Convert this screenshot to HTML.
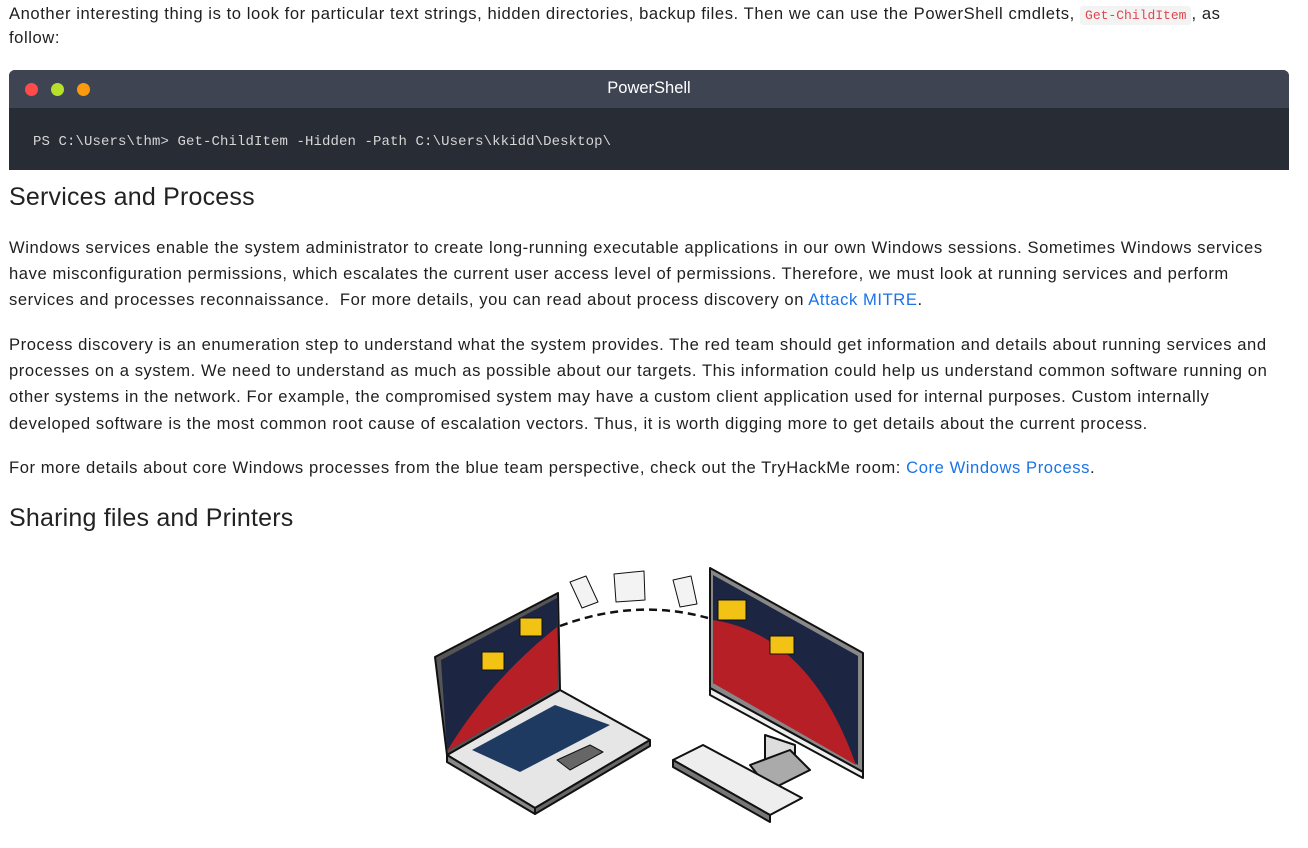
<!DOCTYPE html>
<html><head><meta charset="utf-8"><style>
body{margin:0;width:1308px;height:848px;background:#fff;font-family:"Liberation Sans",sans-serif;color:#1f1f1f;position:relative;overflow:hidden}
.l{position:absolute;left:9px;font-size:16.6px;white-space:nowrap;line-height:20px;letter-spacing:0.57px}
.h{position:absolute;left:9px;font-size:25px;white-space:nowrap;color:#222;letter-spacing:0.2px}
a{color:#1a73e8;text-decoration:none}
code{font-family:"Liberation Mono",monospace;font-size:13px;color:#e0464e;background:#f3f3f3;padding:2px 5px;border-radius:3px;letter-spacing:0}
.term{position:absolute;left:9px;top:70px;width:1280px;height:100px;background:#282c34;border-radius:6px 6px 0 0;overflow:hidden}
.th{height:38px;background:#3e4452;position:relative}
.dot{position:absolute;top:13px;width:13px;height:13px;border-radius:50%}
.tt{position:absolute;left:0;right:0;top:9px;text-align:center;color:#fff;font-size:16.5px}
.cmd{position:absolute;left:24px;top:64px;color:#d6d6d6;font-family:"Liberation Mono",monospace;font-size:14px;letter-spacing:0.1px}
</style></head><body>
<div class="l" style="top:4px">Another interesting thing is to look for particular text strings, hidden directories, backup files. Then we can use the PowerShell cmdlets, <code>Get-ChildItem</code>, as</div>
<div class="l" style="top:28px">follow:</div>
<div class="term"><div class="th"><div class="dot" style="left:16px;background:#ff4b4b"></div><div class="dot" style="left:42px;background:#b7e02c"></div><div class="dot" style="left:68px;background:#fb9a0e"></div><div class="tt">PowerShell</div></div>
<div class="cmd">PS C:\Users\thm&gt; Get-ChildItem -Hidden -Path C:\Users\kkidd\Desktop\</div></div>
<div class="h" style="top:183px">Services and Process</div>
<div class="l" style="top:238px">Windows services enable the system administrator to create long-running executable applications in our own Windows sessions. Sometimes Windows services</div>
<div class="l" style="top:264px">have misconfiguration permissions, which escalates the current user access level of permissions. Therefore, we must look at running services and perform</div>
<div class="l" style="top:290px">services and processes reconnaissance.&nbsp; For more details, you can read about process discovery on <a>Attack MITRE</a>.</div>
<div class="l" style="top:335px">Process discovery is an enumeration step to understand what the system provides. The red team should get information and details about running services and</div>
<div class="l" style="top:361px">processes on a system. We need to understand as much as possible about our targets. This information could help us understand common software running on</div>
<div class="l" style="top:387px">other systems in the network. For example, the compromised system may have a custom client application used for internal purposes. Custom internally</div>
<div class="l" style="top:414px">developed software is the most common root cause of escalation vectors. Thus, it is worth digging more to get details about the current process.</div>
<div class="l" style="top:458px">For more details about core Windows processes from the blue team perspective, check out the TryHackMe room: <a>Core Windows Process</a>.</div>
<div class="h" style="top:504px">Sharing files and Printers</div>
<svg style="position:absolute;left:0;top:0" width="1308" height="848">
<g stroke="#111" stroke-width="2" stroke-linejoin="round">
<path d="M560,626 Q635,598 708,618" fill="none" stroke-dasharray="8,5" stroke-width="2.5"/>
<polygon points="570,582 586,576 598,602 582,608" fill="#f3f3f3" stroke-width="1"/>
<polygon points="614,574 644,571 645,600 616,602" fill="#f3f3f3" stroke-width="1"/>
<polygon points="673,580 691,576 697,604 680,607" fill="#f3f3f3" stroke-width="1"/>
<polygon points="447,755 560,690 650,740 535,808" fill="#e6e6e6"/>
<polygon points="447,755 535,808 535,814 447,762" fill="#888"/>
<polygon points="535,808 650,740 650,746 535,814" fill="#666"/>
<polygon points="472,750 555,705 610,725 520,772" fill="#1f3a60" stroke="none"/>
<polygon points="557,760 590,745 603,752 570,770" fill="#666" stroke-width="1"/>
<polygon points="435,657 558,593 560,690 447,755" fill="#555"/>
<polygon points="441,660 557,598 558,688 447,751" fill="#1c2542" stroke="none"/>
<path d="M447,751 Q490,680 557,627 L558,688 Z" fill="#b71f26" stroke="none"/>
<rect x="482" y="652" width="22" height="18" fill="#f2c215" stroke-width="1"/>
<rect x="520" y="618" width="22" height="18" fill="#f2c215" stroke-width="1"/>
<polygon points="765,735 795,745 795,775 765,765" fill="#ddd"/>
<polygon points="750,765 790,750 810,770 770,790" fill="#aaa"/>
<polygon points="710,568 863,653 863,772 710,688" fill="#888"/>
<polygon points="713,575 858,656 858,765 713,683" fill="#1c2542" stroke="none"/>
<path d="M713,620 Q810,635 856,765 L713,683 Z" fill="#b71f26" stroke="none"/>
<polygon points="710,688 863,772 863,778 710,695" fill="#eee"/>
<rect x="718" y="600" width="28" height="20" fill="#f2c215" stroke-width="1"/>
<rect x="770" y="636" width="24" height="18" fill="#f2c215" stroke-width="1"/>
<polygon points="673,760 703,745 802,798 770,815" fill="#eee"/>
<polygon points="673,760 770,815 770,822 673,767" fill="#777"/>
</g>
</svg>
</body></html>
